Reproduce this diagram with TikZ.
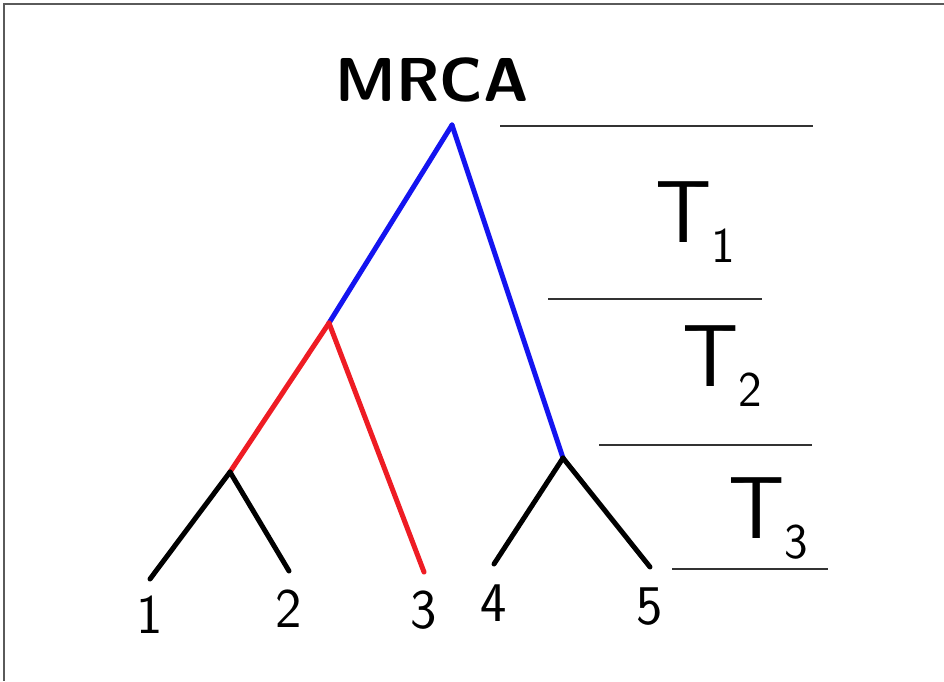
\documentclass[tikz,border=0pt]{standalone}
\usepackage{xcolor}
\usepackage{tikz}
\usetikzlibrary{positioning}
\definecolor{branchblue}{HTML}{1414F0}
\definecolor{branchred}{HTML}{EE1C24}
\definecolor{framegrey}{HTML}{5A5A5A}
\newcommand{\tsub}[1]{{\fontsize{50}{50}\selectfont\raisebox{-20pt}{#1}}}
\tikzset{
  treenode/.style={inner sep=0pt, minimum size=0pt},
  branch/.style={line width=5pt, line cap=round},
  timeline/.style={line width=1.2pt, color=black!80},
  leaflabel/.style={font=\sffamily\fontsize{56}{56}\selectfont, inner sep=0pt},
  timelabel/.style={font=\sffamily\fontsize{88}{88}\selectfont, inner sep=0pt},
}

\begin{document}
\begin{tikzpicture}[x=1pt, y=-1pt]
  \useasboundingbox (0,0) rectangle (944,681);
  % frame
  \draw[framegrey, line width=1.5pt] (944,4) -- (4,4) -- (4,681);
  % tree vertices
  \node[treenode] (root) at (452,125) {};
  \node[treenode] (a) at (329,323) {};
  \node[treenode] (b) at (230,472) {};
  \node[treenode] (c) at (563,458) {};
  \node[treenode] (l1) at (150,579) {};
  \node[treenode] (l2) at (289,571) {};
  \node[treenode] (l3) at (424,572) {};
  \node[treenode] (l4) at (494,564) {};
  \node[treenode] (l5) at (650,567) {};
  \node[font=\sffamily\bfseries\fontsize{62}{62}\selectfont, inner sep=0pt] (mrca) at (432,80) {MRCA};
  % leaf labels
  \node[leaflabel, below=16pt of l1] (n1) {1};
  \node[leaflabel, below=18pt of l2] (n2) {2};
  \node[leaflabel, below=18pt of l3] (n3) {3};
  \node[leaflabel, below=20pt of l4] (n4) {4};
  \node[leaflabel, below=20pt of l5] (n5) {5};
  % branches
  \foreach \a/\b in {root/a,root/c}
    \draw[branch, branchblue] (\a.center) -- (\b.center);
  \foreach \a/\b in {a/b,a/l3}
    \draw[branch, branchred] (\a.center) -- (\b.center);
  \foreach \a/\b in {b/l1,b/l2,c/l4,c/l5}
    \draw[branch, black] (\a.center) -- (\b.center);
  % time intervals
  \coordinate (t0w) at (500,126);  \coordinate (t0e) at (813,126);
  \coordinate (t1w) at (548,299);  \coordinate (t1e) at (762,299);
  \coordinate (t2w) at (599,445);  \coordinate (t2e) at (812,445);
  \coordinate (t3w) at (672,569);  \coordinate (t3e) at (828,569);
  \foreach \i in {0,...,3}
    \draw[timeline] (t\i w) -- (t\i e);
  \node[timelabel] (T1) at (695,222) {T\tsub{1}};
  \node[timelabel] (T2) at (722,366) {T\tsub{2}};
  \node[timelabel] (T3) at (768,518) {T\tsub{3}};
\end{tikzpicture}
\end{document}
